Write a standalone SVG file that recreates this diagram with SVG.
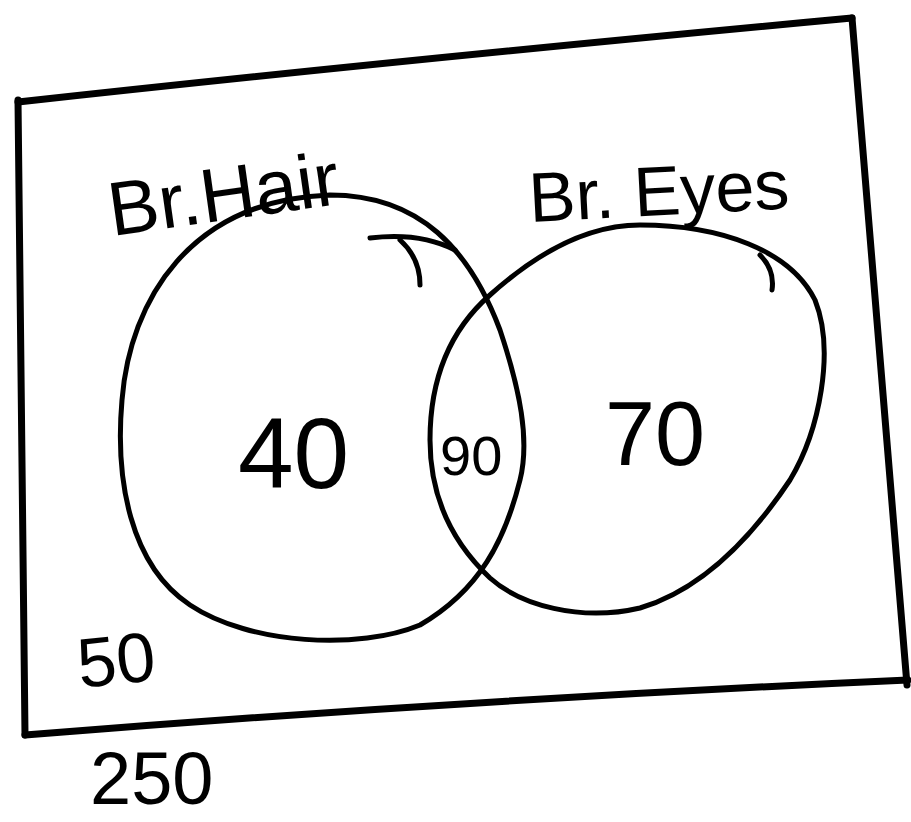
<svg xmlns="http://www.w3.org/2000/svg" width="911" height="822" viewBox="0 0 911 822">
<style>
.ln{fill:none;stroke:#000;stroke-width:5;stroke-linecap:round;stroke-linejoin:round}
.frame{fill:none;stroke:#000;stroke-width:7;stroke-linecap:round;stroke-linejoin:round}
.t{font-family:"Liberation Sans",Arial,sans-serif;fill:#000}
</style>
<rect width="911" height="822" fill="#fff"/>
<g id="frame">
<path class="frame" d="M18,102 Q400,60 852,18"/>
<path class="frame" d="M18,100 Q22,420 25,735"/>
<path class="frame" d="M852,18 Q880,350 907,685"/>
<path class="frame" d="M25,735 Q460,700 908,680"/>
</g>
<g id="connectors">
<path class="ln" d="M370,238 Q420,232 455,250"/>
<path class="ln" d="M400,240 Q420,258 420,285"/>
<path class="ln" d="M760,255 Q775,270 772,290"/>
</g>
<g id="brhair">
<path class="ln" d="M330,195 C420,195 470,250 500,330 C520,390 530,440 520,480 C505,540 480,590 420,625 C360,650 250,645 190,605 C130,565 115,480 122,400 C130,300 190,200 330,195 Z"/>
<text class="t" x="112" y="236" font-size="76" transform="rotate(-8 112 236)">Br.Hair</text>
<text class="t" x="238" y="488" font-size="100">40</text>
</g>
<g id="breyes">
<path class="ln" d="M640,225 C720,225 790,250 815,300 C835,350 820,430 790,480 C750,540 700,590 640,608 C580,622 520,605 490,578 C455,545 430,500 430,440 C430,380 450,330 490,295 C540,250 590,225 640,225 Z"/>
<text class="t" x="530" y="222" font-size="70" transform="rotate(-3 530 222)">Br. Eyes</text>
<text class="t" x="605" y="465" font-size="90">70</text>
</g>
<g id="both">
<text class="t" x="440" y="475" font-size="56">90</text>
</g>
<g id="neither">
<text class="t" x="80" y="688" font-size="70" transform="rotate(-6 80 688)">50</text>
</g>
<g id="total">
<text class="t" x="90" y="804" font-size="74">250</text>
</g>
</svg>
